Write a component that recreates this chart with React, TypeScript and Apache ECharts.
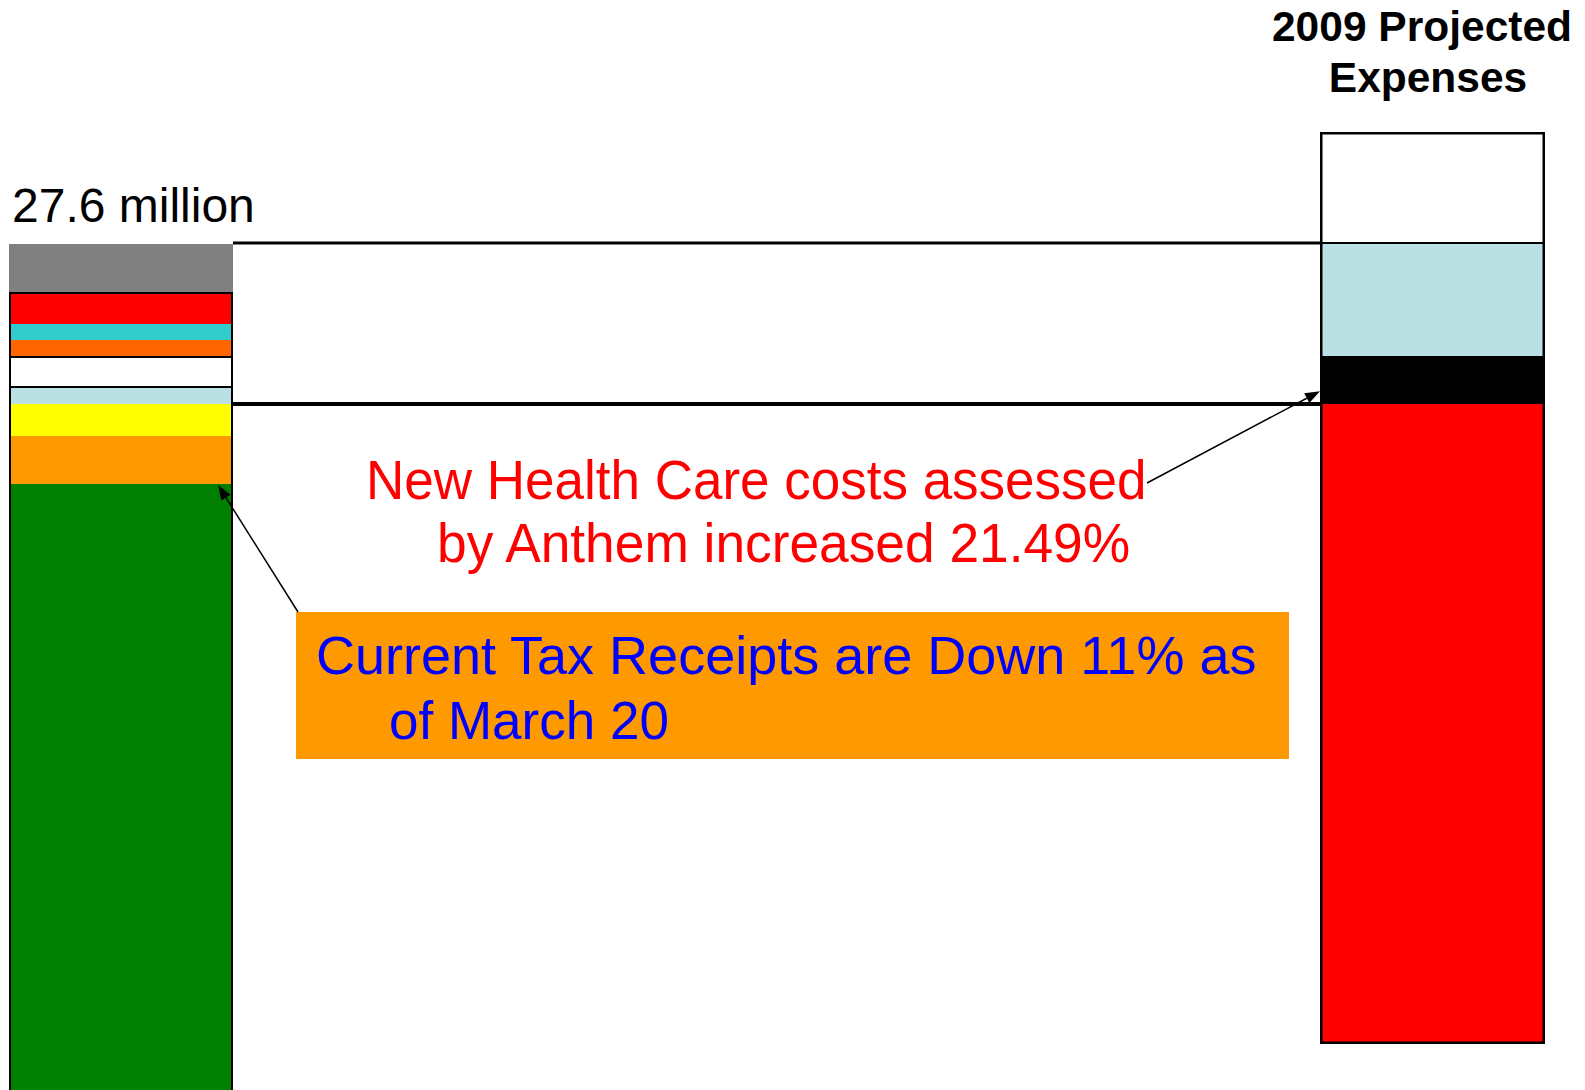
import React, { useEffect, useRef } from "react";
import * as echarts from "echarts";

// ---------- data (millions of dollars) ----------
const leftCategory = ["2009 Revenue"];
const rightCategory = ["2009 Projected Expenses"];

// left bar, bottom to top
const leftSegmentNames = [
  "Tax receipts",
  "Revenue 2",
  "Revenue 3",
  "Revenue 4",
  "Revenue 5",
  "Revenue 6",
  "Revenue 7",
  "Revenue 8",
  "Revenue 9",
];
const leftSegmentValues = [20.1, 1.5, 1.0, 0.5, 1.0, 0.5, 0.5, 1.0, 1.5];

// right bar, bottom to top
const rightSegmentNames = ["Expenses 1", "Health care increase", "Expenses 3", "Expenses 4"];
const rightSegmentValues = [20.0, 1.5, 3.5, 3.5];

// ---------- styles ----------
const leftColors = ["#008000", "#FF9900", "#FFFF00", "#BBE0E3", "#FFFFFF", "#FF6600", "#33CCCC", "#FF0000", "#808080"];
const rightColors = ["#FF0000", "#000000", "#BBE0E3", "#FFFFFF"];
const FONT = "'Liberation Sans', Arial, Helvetica, sans-serif";

const sum = (a: number[]) => a.reduce((s, v) => s + v, 0);

function txt(x: number, y: number, s: string, size: number, color: string, align = "left", weight = "normal", scaleY = 1) {
  return {
    type: "text",
    z: 100,
    x,
    y,
    scaleY,
    style: {
      text: s,
      x: 0,
      y: 0,
      fill: color,
      fontSize: size,
      fontFamily: FONT,
      fontWeight: weight,
      textAlign: align,
      textVerticalAlign: "middle",
      align,
      verticalAlign: "middle",
    },
  };
}

function arrow(x1: number, y1: number, x2: number, y2: number, w = 1.5, head = 15, half = 5.5) {
  const dx = x2 - x1;
  const dy = y2 - y1;
  const L = Math.hypot(dx, dy);
  const ux = dx / L;
  const uy = dy / L;
  const bx = x2 - ux * head;
  const by = y2 - uy * head;
  const px = -uy;
  const py = ux;
  return [
    { type: "line", z: 100, shape: { x1, y1, x2: bx, y2: by }, style: { stroke: "#000", lineWidth: w } },
    {
      type: "polygon",
      z: 100,
      shape: { points: [[x2, y2], [bx + px * half, by + py * half], [bx - px * half, by - py * half]] },
      style: { fill: "#000" },
    },
  ];
}

export default function App() {
  const ref = useRef<HTMLDivElement>(null);

  useEffect(() => {
    if (!ref.current) return;
    const chart = echarts.init(ref.current, undefined, { renderer: "svg" });

    const leftTotal = sum(leftSegmentValues);
    const leftOutline = sum(leftSegmentValues.slice(0, leftSegmentValues.length - 1));
    const rightTotal = sum(rightSegmentValues);

    const series: any[] = [];
    leftSegmentValues.forEach((v, i) => {
      const isWhite = leftColors[i] === "#FFFFFF";
      series.push({
        type: "bar",
        name: leftSegmentNames[i],
        stack: "left",
        xAxisIndex: 0,
        yAxisIndex: 0,
        barWidth: "100%",
        barGap: "-100%",
        data: [v],
        itemStyle: {
          color: leftColors[i],
          borderColor: isWhite ? "#000" : leftColors[i],
          borderWidth: isWhite ? 2 : 0,
        },
      });
    });
    series.push({
      type: "bar",
      name: "left outline",
      xAxisIndex: 0,
      yAxisIndex: 0,
      barWidth: "100%",
      barGap: "-100%",
      silent: true,
      data: [leftOutline],
      itemStyle: { color: "rgba(0,0,0,0)", borderColor: "#000", borderWidth: 2 },
    });
    rightSegmentValues.forEach((v, i) => {
      const isWhite = rightColors[i] === "#FFFFFF";
      series.push({
        type: "bar",
        name: rightSegmentNames[i],
        stack: "right",
        xAxisIndex: 1,
        yAxisIndex: 1,
        barWidth: "100%",
        barGap: "-100%",
        data: [v],
        itemStyle: {
          color: rightColors[i],
          borderColor: isWhite ? "#000" : rightColors[i],
          borderWidth: isWhite ? 2 : 0,
        },
      });
    });
    series.push({
      type: "bar",
      name: "right outline",
      xAxisIndex: 1,
      yAxisIndex: 1,
      barWidth: "100%",
      barGap: "-100%",
      silent: true,
      data: [rightTotal],
      itemStyle: { color: "rgba(0,0,0,0)", borderColor: "#000", borderWidth: 2.5 },
    });

    chart.setOption({
      animation: false,
      backgroundColor: "#ffffff",
      grid: [
        { left: 9, top: 103.2, width: 224, height: 1024, outerBoundsMode: "none", containLabel: false },
        { left: 1320, top: 116, width: 225, height: 928, outerBoundsMode: "none", containLabel: false },
      ],
      xAxis: [
        { type: "category", gridIndex: 0, data: leftCategory, show: false },
        { type: "category", gridIndex: 1, data: rightCategory, show: false },
      ],
      yAxis: [
        { type: "value", gridIndex: 0, min: 0, max: 32, show: false },
        { type: "value", gridIndex: 1, min: 0, max: 29, show: false },
      ],
      series,
    });

    const yL = (v: number) => chart.convertToPixel({ yAxisIndex: 0 }, v) as number;
    const yR = (v: number) => chart.convertToPixel({ yAxisIndex: 1 }, v) as number;
    const leftRight = 233;
    const rightLeft = 1320;

    const topLineY = yL(leftTotal) - 1;
    const midLineY = yR(rightSegmentValues[0]);
    const greenTop = yL(leftSegmentValues[0]);

    const graphic: any[] = [
      { type: "line", z: 90, shape: { x1: leftRight, y1: topLineY, x2: rightLeft, y2: topLineY }, style: { stroke: "#000", lineWidth: 3 } },
      { type: "line", z: 90, shape: { x1: leftRight, y1: midLineY, x2: rightLeft, y2: midLineY }, style: { stroke: "#000", lineWidth: 4 } },
      txt(12, 205, `${leftTotal.toFixed(1)} million`, 48, "#000"),
      txt(1422, 26, "2009 Projected", 42.5, "#000", "center", "bold"),
      txt(1428, 77, "Expenses", 42.5, "#000", "center", "bold"),
      txt(366, 480, "New Health Care costs assessed", 53, "#FF0000", "left", "normal", 1.04),
      txt(437, 543, "by Anthem increased 21.49%", 53.3, "#FF0000", "left", "normal", 1.04),
      { type: "rect", z: 95, shape: { x: 296, y: 612, width: 993, height: 147 }, style: { fill: "#FF9900" } },
      txt(316, 655, "Current Tax Receipts are Down 11% as", 54, "#0000FF"),
      txt(389, 720, "of March 20", 53, "#0000FF"),
      ...arrow(298, 612, leftRight - 15, greenTop + 1),
      ...arrow(1147, 483, rightLeft, yR(rightSegmentValues[0] + 0.4)),
    ];
    chart.setOption({ graphic });

    return () => chart.dispose();
  }, []);

  return (
    <div
      ref={ref}
      style={{ position: "absolute", left: 0, top: 0, width: 1585, height: 1090, overflow: "hidden" }}
    />
  );
}
